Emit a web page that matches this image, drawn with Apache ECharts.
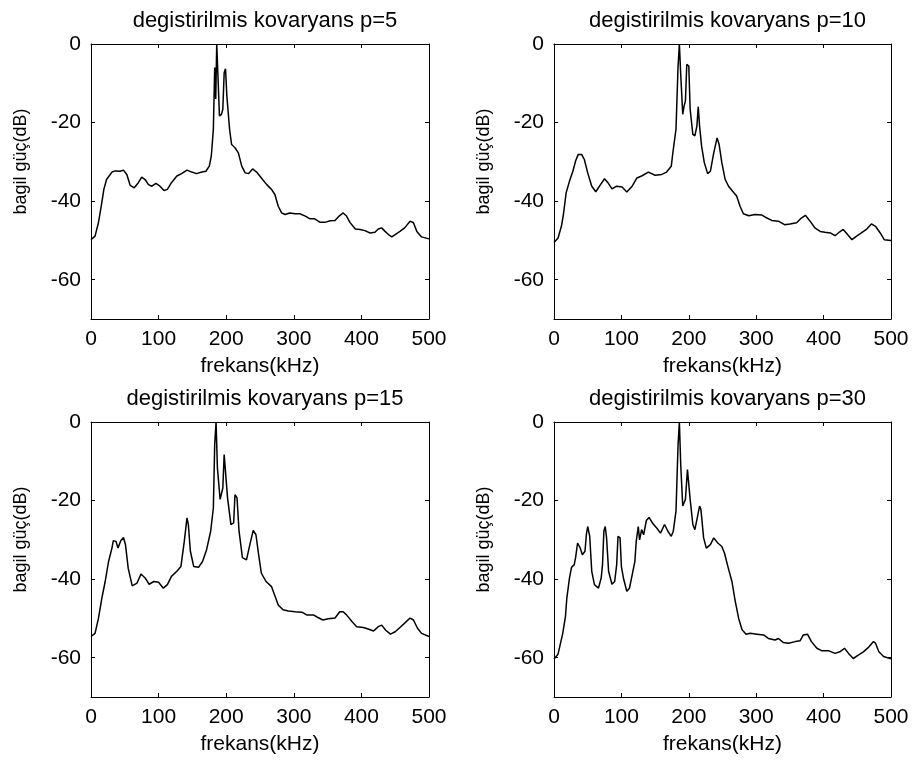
<!DOCTYPE html>
<html>
<head>
<meta charset="utf-8">
<script src="https://cdn.jsdelivr.net/npm/echarts@6/dist/echarts.min.js"></script>
<style>html,body{margin:0;padding:0;background:#fff;}#c{width:914px;height:767px;}</style>
</head>
<body>
<div id="c"></div>
<script>
// ---- data ----
const titles = ['degistirilmis kovaryans p=5', 'degistirilmis kovaryans p=10', 'degistirilmis kovaryans p=15', 'degistirilmis kovaryans p=30'];
const xTicks = [0, 100, 200, 300, 400, 500];
const yTicks = [-60, -40, -20, 0];
const xName = 'frekans(kHz)';
const yName = 'bagil güç(dB)';

const freqP5 = [0,6,11,16,19,23,31,36,43,48,53,58,64,70,75,80,85,90,96,102,108,113,119,127,134,142,149,156,164,170,175,178,181,183,184.5,186,188,190,193,195,197,199,201,205,208,213,218,223,228,233,239,245,252,260,267,272,277,282,287,294,302,309,317,324,331,339,346,354,361,367,373,378,383,391,398,405,413,420,425,430,435,440,445,450,457,464,472,477,482,489,500];
const dbP5 = [-49.8,-48.9,-45.5,-40.4,-37,-34.5,-32.6,-32.3,-32.4,-32.1,-33.2,-36,-36.6,-35.3,-33.9,-34.5,-35.8,-36.2,-35.5,-36.2,-37.3,-37,-35.3,-33.6,-33,-32.1,-32.6,-33,-32.6,-32.4,-31.1,-28.5,-21.7,-6,-14,0,-9,-18.3,-17.9,-16.6,-7.3,-6.3,-13.3,-21.7,-25.6,-26.4,-27.7,-31.1,-32.8,-33,-31.8,-32.6,-34.1,-35.8,-37,-38.3,-41.3,-43,-43.4,-43,-43.2,-43.2,-43.8,-44.5,-44.5,-45.4,-45.4,-45,-44.9,-43.8,-43,-43.8,-45.4,-47.1,-47.2,-47.5,-48.1,-47.9,-47.1,-46.8,-47.7,-48.5,-49.1,-48.5,-47.7,-46.8,-45.1,-45.5,-47.7,-49.1,-49.6];

const freqP10 = [0,6,11,14,18,23,28,32,36,41,45,50,56,62,69,75,80,86,93,101,108,116,123,130,140,150,160,167,174,177,181,184,186,188,191,193,195,197,200,202,206,209,212,214,216,219,223,228,232,237,242,245,249,254,259,265,271,276,281,289,298,308,316,323,333,342,350,360,367,373,380,387,395,402,410,417,424,429,434,442,449,456,464,471,477,484,490,500];
const dbP10 = [-50.5,-49.4,-46.4,-43.4,-37.9,-34.9,-32.4,-29.8,-28.1,-28.1,-29.4,-32.8,-36.2,-37.6,-35.8,-34.3,-35.3,-36.9,-36.2,-36.4,-37.7,-36.2,-34.1,-33.6,-32.6,-33.4,-33.2,-32.6,-31.1,-26.8,-21.7,-6,0,-7.7,-17.9,-15.8,-14.5,-5.2,-5.6,-16.6,-23,-23.4,-20.9,-16,-20.9,-26,-30.2,-33,-32.4,-27.7,-23.9,-25.6,-30.2,-34.5,-36.2,-37.5,-38.7,-41.3,-43.2,-43.7,-43.4,-43.5,-44.3,-44.9,-45.1,-46,-45.8,-45.5,-44.3,-43.6,-45.1,-46.8,-47.7,-47.9,-48.1,-48.8,-47.8,-47.2,-48.2,-49.8,-48.9,-48.1,-47.1,-45.8,-46.4,-48.1,-49.8,-50];

const freqP15 = [0,6,11,16,21,26,31,33,37,40,44,48,51,55,61,68,74,80,86,93,100,107,113,119,127,133,138,142,144,147,152,159,165,171,177,181,183,185,187,191,195,197,199,202,207,211,213,216,219,224,230,235,240,244,248,252,259,267,272,277,284,292,302,312,319,329,335,343,351,361,368,373,378,386,393,403,410,418,425,430,436,443,450,457,464,472,477,483,489,500];
const dbP15 = [-54.6,-53.8,-50,-44.9,-40.6,-35.5,-32.1,-30.2,-30.4,-32.1,-30.2,-29.4,-31.2,-37.2,-41.7,-41,-38.7,-39.7,-41.3,-40.6,-40.8,-42.3,-41.4,-39.3,-38,-36.8,-30.4,-24.4,-26.1,-32.9,-36.8,-37,-35.5,-32.5,-27.8,-21.9,-5.7,0,-11.7,-19.7,-16.8,-8.3,-8.7,-19.3,-26.1,-25.7,-18.5,-19.3,-27.8,-34.5,-35.1,-31.2,-27.6,-28.7,-33.8,-38.5,-40.6,-41.9,-44.2,-46.6,-47.8,-48.1,-48.3,-48.4,-49.1,-49.1,-49.7,-50.4,-50.1,-49.9,-48.3,-48.3,-49.1,-50.8,-52.1,-52.3,-52.7,-53.2,-52.1,-51.7,-53,-54,-53.4,-52.3,-51.2,-49.9,-50.4,-52.5,-53.8,-54.6];

const freqP30 = [0,6,9,13,17,19,23,26,30,32,35,39,42,46,48,50,53,56,60,66,70,72,74,76,78,81,86,90,93,95,98,100,103,108,112,116,120,122,125,127,130,133,137,141,146,153,158,164,169,174,177,181,184,186,188,191,195,198,200,202,206,209,213,216,218,222,226,232,237,243,249,253,258,264,269,274,279,285,291,301,311,318,328,333,340,348,358,365,370,376,382,390,397,407,417,424,431,437,444,452,459,467,474,477,482,489,500];
const dbP30 = [-60.3,-59.1,-56.8,-53.8,-49.5,-44.9,-39.7,-37,-36.3,-34.6,-30.8,-32.1,-33.8,-32.9,-28.7,-26.6,-29.1,-38,-41.4,-42.3,-39.7,-36.3,-27.8,-26.6,-29.5,-38,-41.3,-40.6,-36.3,-29.1,-29.5,-36.8,-39.7,-43.1,-42.3,-38.9,-35.5,-30.4,-26.6,-30,-27.4,-28.7,-25.1,-24.3,-25.7,-27.1,-28.3,-26.1,-27.8,-29.1,-27.8,-22.7,-6.1,0,-10.8,-21.4,-19.7,-12.1,-12.5,-19.7,-26.1,-27.4,-24,-21.4,-22.3,-29.5,-32.1,-31.2,-29.5,-30.8,-31.7,-33.4,-36.8,-40.6,-45.7,-50,-52.9,-54,-53.8,-54,-54.2,-55.1,-55.5,-55.1,-56.1,-56.3,-55.9,-55.7,-54.2,-54,-55.9,-57.6,-58.2,-58.2,-58.9,-58.5,-57.6,-58.9,-60.2,-59.3,-58.5,-57.3,-55.9,-56.3,-58.5,-59.7,-60.3];

// ---- chart construction ----
const panels = [[freqP5, dbP5], [freqP10, dbP10], [freqP15, dbP15], [freqP30, dbP30]];
const grids = [
  {left: 91, top: 44, width: 338, height: 275},
  {left: 554, top: 44, width: 337, height: 275},
  {left: 91, top: 422, width: 338, height: 275},
  {left: 554, top: 422, width: 337, height: 275}
];
const FONT = "'Liberation Sans', Arial, sans-serif";
const lineCol = '#000';

const option = {
  backgroundColor: '#fff',
  animation: false,
  title: [], grid: [], xAxis: [], yAxis: [], series: []
};

grids.forEach((g, i) => {
  option.grid.push(Object.assign({containLabel: false, show: false}, g));
  option.title.push({
    text: titles[i],
    left: g.left + g.width / 2,
    top: g.top - 39,
    textAlign: 'center',
    textStyle: {fontFamily: FONT, fontSize: 22, fontWeight: 'normal', color: '#000'}
  });
  const axLine = {show: true, onZero: false, lineStyle: {color: lineCol, width: 1}};
  const tick = {show: true, inside: true, length: 4, lineStyle: {color: lineCol, width: 1}};
  option.xAxis.push({
    gridIndex: i, type: 'value', position: 'bottom', min: xTicks[0], max: xTicks[xTicks.length - 1], interval: 100,
    name: xName, nameLocation: 'middle', nameGap: 37,
    nameTextStyle: {fontFamily: FONT, fontSize: 21, color: '#000'},
    axisLine: axLine, axisTick: tick, splitLine: {show: false},
    axisLabel: {fontFamily: FONT, fontSize: 21, color: '#000', margin: 10}
  });
  option.xAxis.push({
    gridIndex: i, type: 'value', position: 'top', min: xTicks[0], max: xTicks[xTicks.length - 1], interval: 100,
    axisLine: axLine, axisTick: tick, splitLine: {show: false}, axisLabel: {show: false}
  });
  option.yAxis.push({
    gridIndex: i, type: 'value', position: 'left', min: -70, max: 0,
    name: yName, nameLocation: 'middle', nameGap: 61, nameRotate: 90,
    nameTextStyle: {fontFamily: FONT, fontSize: 18, color: '#000', padding: [0, 0, 0, 40]},
    axisLine: axLine, axisTick: Object.assign({customValues: yTicks}, tick), splitLine: {show: false},
    axisLabel: {fontFamily: FONT, fontSize: 21, color: '#000', margin: 10, customValues: yTicks}
  });
  option.yAxis.push({
    gridIndex: i, type: 'value', position: 'right', min: -70, max: 0,
    axisLine: axLine, axisTick: Object.assign({customValues: yTicks}, tick), splitLine: {show: false},
    axisLabel: {show: false, customValues: yTicks}
  });
  const [fx, dy] = panels[i];
  option.series.push({
    type: 'line', xAxisIndex: 2 * i, yAxisIndex: 2 * i,
    data: fx.map((f, k) => [f, dy[k]]),
    showSymbol: false, symbol: 'none', smooth: false,
    lineStyle: {color: lineCol, width: 1.5}
  });
});

const chart = echarts.init(document.getElementById('c'), null, {renderer: 'canvas'});
chart.setOption(option);
</script>
</body>
</html>
